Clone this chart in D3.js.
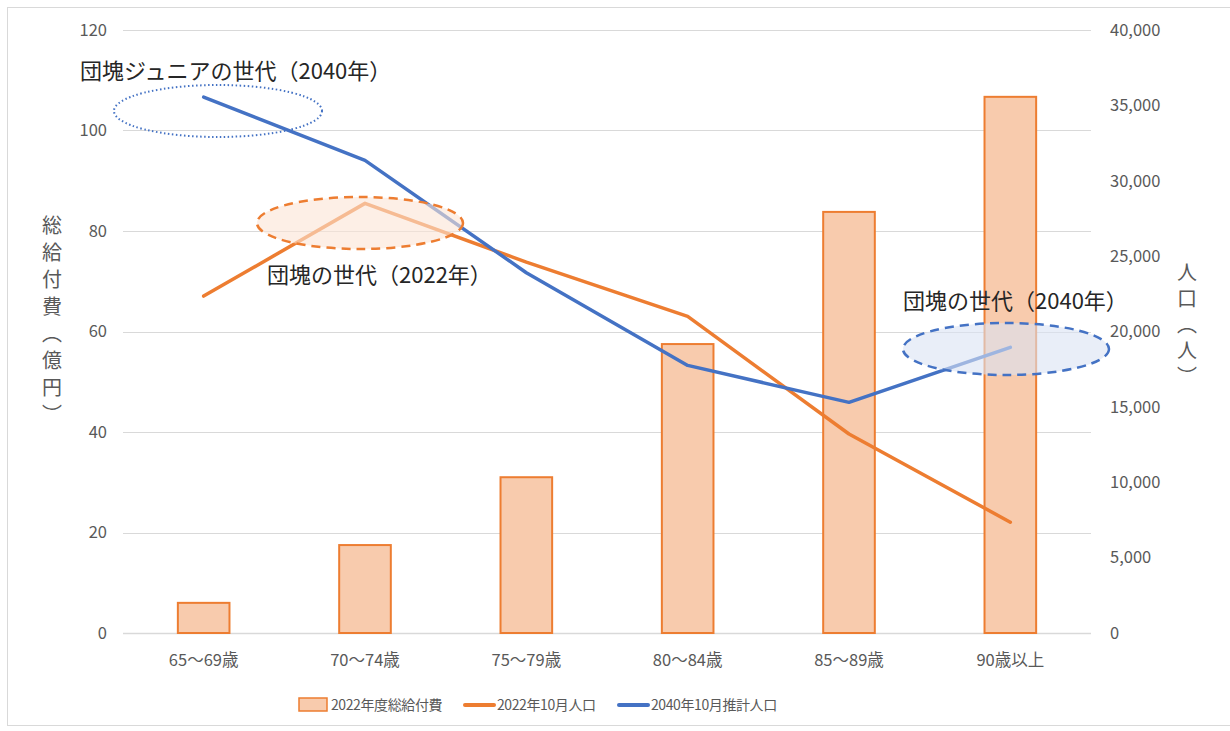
<!DOCTYPE html>
<html>
<head>
<meta charset="utf-8">
<script src="https://cdn.jsdelivr.net/npm/d3@7"></script>
<style>
  body { margin: 0; background: #fff; }
  text { font-family: "Noto Sans CJK JP", "Noto Sans", sans-serif; }
</style>
</head>
<body>
<svg id="chart" width="1230" height="731"></svg>
<script>
var CATEGORIES = ["65～69歳", "70～74歳", "75～79歳", "80～84歳", "85～89歳", "90歳以上"];
var BENEFIT_2022 = [6.0, 17.5, 31.0, 57.5, 83.8, 106.7];          // 億円
var POP_2022 = [22350, 28500, 24600, 21000, 13200, 7350];          // 人
var POP_2040 = [35550, 31350, 23900, 17750, 15300, 18950];         // 人
var LEFT_TICKS = [0, 20, 40, 60, 80, 100, 120];
var RIGHT_TICKS = [0, 5000, 10000, 15000, 20000, 25000, 30000, 35000, 40000];

var ORANGE = "#ED7D31", BLUE = "#4472C4", BAR_FILL = "#F8CBAD";

var svg = d3.select("#chart");
var margin = {top: 30, left: 123, right: 1091, bottom: 633};

svg.append("rect")
    .attr("x", 7.5).attr("y", 7.5).attr("width", 1230).attr("height", 718)
    .attr("fill", "#fff").attr("stroke", "#d9d9d9");

var x = d3.scaleBand().domain(CATEGORIES)
    .range([margin.left, margin.right])
    .paddingInner(0.68).paddingOuter(0.34);
var yL = d3.scaleLinear().domain([0, 120]).range([margin.bottom, margin.top]);
var yR = d3.scaleLinear().domain([0, 40000]).range([margin.bottom, margin.top]);
function cx(c) { return x(c) + x.bandwidth() / 2; }

/* gridlines */
svg.append("g").selectAll("line").data(LEFT_TICKS).enter().append("line")
    .attr("x1", margin.left).attr("x2", margin.right)
    .attr("y1", function(d){ return Math.round(yL(d)) + 0.5; })
    .attr("y2", function(d){ return Math.round(yL(d)) + 0.5; })
    .attr("stroke", "#d9d9d9").attr("stroke-width", function(d){ return d === 0 ? 1.5 : 1; });

/* left ticks */
svg.append("g").selectAll("text").data(LEFT_TICKS).enter().append("text")
    .attr("x", 107).attr("y", function(d){ return yL(d); })
    .attr("dy", "0.35em").attr("text-anchor", "end")
    .attr("font-size", 16.5).attr("fill", "#595959")
    .text(function(d){ return d; });

/* right ticks */
svg.append("g").selectAll("text").data(RIGHT_TICKS).enter().append("text")
    .attr("x", 1110).attr("y", function(d){ return yR(d); })
    .attr("dy", "0.35em").attr("text-anchor", "start")
    .attr("font-size", 16.5).attr("fill", "#595959")
    .text(function(d){ return d3.format(",")(d); });

/* x labels */
svg.append("g").selectAll("text").data(CATEGORIES).enter().append("text")
    .attr("x", function(d){ return cx(d); }).attr("y", 666)
    .attr("text-anchor", "middle")
    .attr("font-size", 16.5).attr("fill", "#595959")
    .text(function(d){ return d; });

/* axis titles */
svg.append("text")
    .attr("x", 52).attr("y", 323)
    .attr("text-anchor", "middle")
    .style("writing-mode", "vertical-rl")
    .attr("font-size", 20).attr("letter-spacing", 7).attr("fill", "#595959")
    .text("総給付費（億円）");
svg.append("text")
    .attr("x", 1187).attr("y", 327)
    .attr("text-anchor", "middle")
    .style("writing-mode", "vertical-rl")
    .attr("font-size", 20).attr("letter-spacing", 6).attr("fill", "#595959")
    .text("人口（人）");

/* bars */
svg.append("g").selectAll("rect").data(BENEFIT_2022).enter().append("rect")
    .attr("x", function(d, i){ return x(CATEGORIES[i]); })
    .attr("width", x.bandwidth())
    .attr("y", function(d){ return yL(d); })
    .attr("height", function(d){ return yL(0) - yL(d); })
    .attr("fill", BAR_FILL).attr("stroke", ORANGE).attr("stroke-width", 2);

/* lines */
function drawLine(values, color) {
    var line = d3.line()
        .x(function(d, i){ return cx(CATEGORIES[i]); })
        .y(function(d){ return yR(d); });
    svg.append("path").datum(values)
        .attr("d", line)
        .attr("fill", "none").attr("stroke", color)
        .attr("stroke-width", 3.5).attr("stroke-linejoin", "round").attr("stroke-linecap", "round");
}
drawLine(POP_2022, ORANGE);
drawLine(POP_2040, BLUE);

/* annotation ellipses */
svg.append("ellipse")
    .attr("cx", 218).attr("cy", 111).attr("rx", 104).attr("ry", 26)
    .attr("fill", "none").attr("stroke", BLUE).attr("stroke-width", 2)
    .attr("stroke-dasharray", "1.5 2.5");
svg.append("ellipse")
    .attr("cx", 360).attr("cy", 223).attr("rx", 103).attr("ry", 26)
    .attr("fill", "#FBE5D6").attr("fill-opacity", 0.6)
    .attr("stroke", ORANGE).attr("stroke-width", 2.5)
    .attr("stroke-dasharray", "9 6");
svg.append("ellipse")
    .attr("cx", 1006).attr("cy", 349).attr("rx", 103).attr("ry", 26)
    .attr("fill", "#DAE3F3").attr("fill-opacity", 0.6)
    .attr("stroke", BLUE).attr("stroke-width", 2.5)
    .attr("stroke-dasharray", "9 6");

/* annotation texts */
var notes = [
    {text: "団塊ジュニアの世代（2040年）", x: 80, y: 79},
    {text: "団塊の世代（2022年）", x: 267, y: 283},
    {text: "団塊の世代（2040年）", x: 903, y: 309}
];
svg.append("g").selectAll("text").data(notes).enter().append("text")
    .attr("x", function(d){ return d.x; }).attr("y", function(d){ return d.y; })
    .attr("font-size", 22).attr("fill", "#262626")
    .text(function(d){ return d.text; });

/* legend */
var lg = svg.append("g").attr("font-size", 14).attr("fill", "#595959").attr("letter-spacing", -0.4);
lg.append("rect").attr("x", 299).attr("y", 698).attr("width", 28).attr("height", 13)
    .attr("fill", BAR_FILL).attr("stroke", ORANGE).attr("stroke-width", 1.5);
lg.append("text").attr("x", 331).attr("y", 710)
    .text("2022年度総給付費");
lg.append("line").attr("x1", 465).attr("x2", 494).attr("y1", 705).attr("y2", 705)
    .attr("stroke", ORANGE).attr("stroke-width", 4).attr("stroke-linecap", "round");
lg.append("text").attr("x", 497).attr("y", 710)
    .text("2022年10月人口");
lg.append("line").attr("x1", 619).attr("x2", 648).attr("y1", 705).attr("y2", 705)
    .attr("stroke", BLUE).attr("stroke-width", 4).attr("stroke-linecap", "round");
lg.append("text").attr("x", 651).attr("y", 710)
    .text("2040年10月推計人口");
</script>
</body>
</html>
